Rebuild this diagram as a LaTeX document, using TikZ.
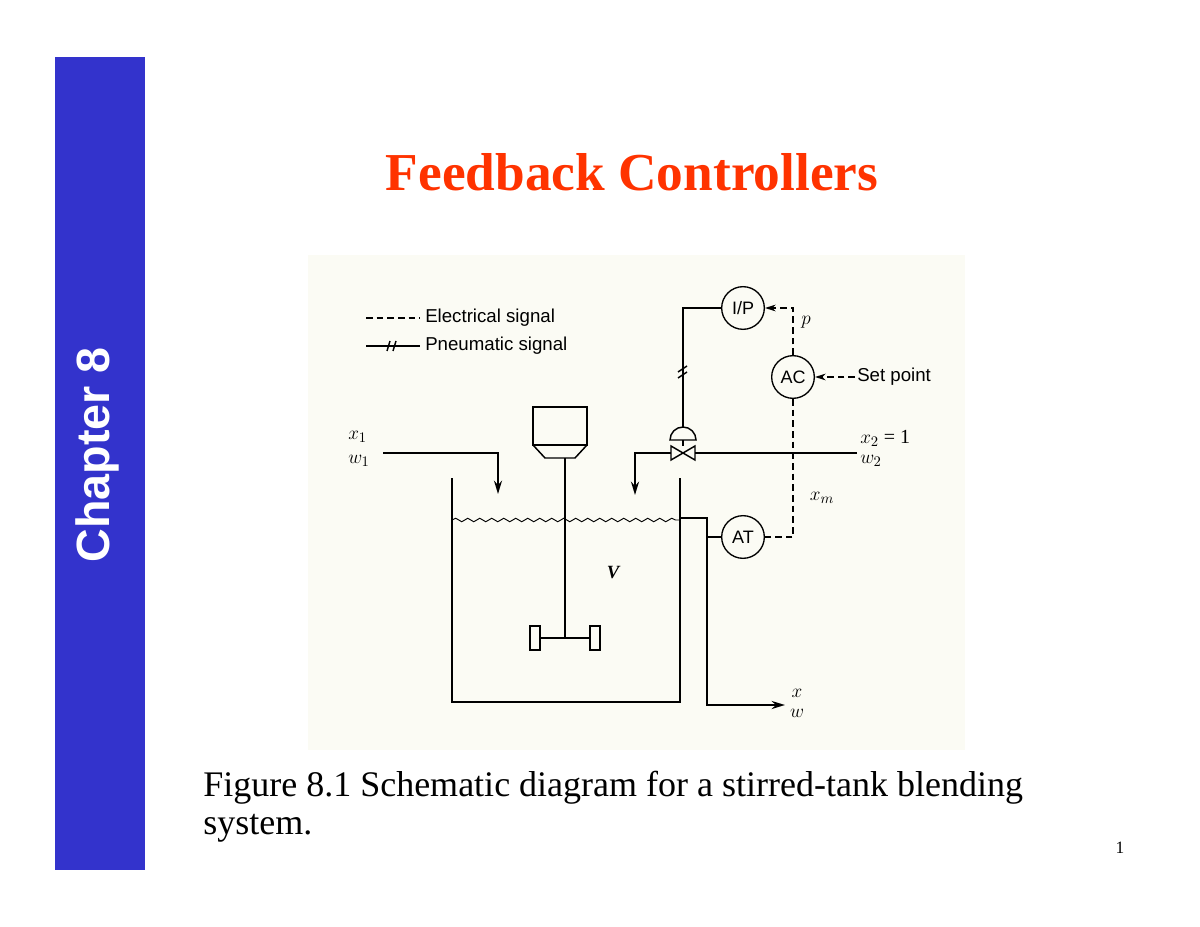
\documentclass[tikz,border=0pt]{standalone}
\usepackage{fontspec}
\setmainfont{Liberation Serif}
\newfontfamily\lsans{Liberation Sans}
\usetikzlibrary{arrows.meta,decorations.pathmorphing}
\definecolor{chap}{RGB}{51,51,204}
\definecolor{ttl}{RGB}{255,51,0}
\definecolor{paper}{RGB}{251,251,244}
\begin{document}
\begin{tikzpicture}[x=0.75pt,y=-0.75pt,
  inst/.style={draw,circle,minimum size=32pt,inner sep=0pt,font=\lsans\fontsize{13.5}{13.5}\selectfont,line width=1pt},
  pipe/.style={line width=2pt},
  thin/.style={line width=1.1pt},
  elec/.style={line width=1pt,dash pattern=on 5pt off 3pt},
  lab/.style={font=\fontsize{15}{15}\selectfont\itshape,inner sep=0pt},
  leg/.style={anchor=west,font=\lsans\fontsize{14}{14}\selectfont,inner sep=0pt},
  sarrow/.style={-{Stealth[length=10pt,width=6pt]}},
  earrow/.style={-{Stealth[length=8pt,width=5pt]}},
  ]
\useasboundingbox (0,0) rectangle (1200,927);
\fill[white] (0,0) rectangle (1200,927);
\fill[chap] (55,57) rectangle (145,870);
\node[rotate=90,text=white,font=\lsans\bfseries\fontsize{35}{35}\selectfont] (chap) at (97,455) {Chapter 8};
\node[text=ttl,font=\bfseries\fontsize{40}{40}\selectfont] (title) at (632,172) {Feedback Controllers};
\fill[paper] (308,255) rectangle (965,750);
% legend
\draw[elec] (366,318) -- (420,318);
\node[leg] (le) at (425,318) {Electrical signal};
\draw[thin] (366,346) -- (420,346);
\draw[thin] (387,351) -- (390,341) (393,351) -- (396,341);
\node[leg] (lp) at (425,346) {Pneumatic signal};
% instruments
\node[inst] (ip) at (743,308) {I/P};
\node[inst] (ac) at (793,377) {AC};
\node[inst] (at) at (743,537) {AT};
% valve
\coordinate (vc) at (683,453);
\draw[thin] (671,446) -- (695,460) -- (695,446) -- (671,460) -- cycle;
\draw[thin] (670,440) -- (696,440) arc (0:-180:13) -- cycle;
\draw[thin] (683,440) -- (683,446);
\coordinate (act) at (683,427);
\draw[thin] (ip.west) -| (act);
\draw[thin] (678,372) -- (687,366) (678,378) -- (687,372);
% inlet 2 pipe
\coordinate (w2e) at (857,453);
\draw[pipe] (w2e) -- (695,453);
\draw[pipe,sarrow] (671,453) -- (635,453) -- (635,495);
\node[lab,anchor=west] (x2) at (860,438) {$x_2$\upshape\ = 1};
\node[lab,anchor=west] (w2) at (860,461) {$w_2$};
% inlet 1
\node[lab,anchor=west] (x1) at (348,437) {$x_1$};
\node[lab,anchor=west] (w1) at (348,461) {$w_1$};
\draw[line width=1.5pt,sarrow] (383,453) -- (498,453) -- (498,494);
% electrical
\coordinate (pc) at (793,308);
\draw[elec,earrow] (ac.north) -- (pc) -- (ip.east);
\node[lab] (p) at (806,322) {$p$};
\coordinate (sp) at (855,377);
\draw[elec,earrow] (sp) -- (ac.east);
\node[leg] (spl) at (857,377) {Set point};
\coordinate (xmc) at (793,537);
\draw[elec] (ac.south) -- (xmc) -- (at.east);
\node[lab] (xm) at (822,498) {$x_m$};
% motor
\draw[thin] (533,407) rectangle (587,445);
\draw[thin] (533,445) -- (545,458) -- (575,458) -- (587,445);
\draw[thin] (565,458) -- (565,638);
\draw[thin] (540,638) -- (590,638);
\draw[thin] (530,626) rectangle (540,650);
\draw[thin] (590,626) rectangle (600,650);
% tank
\draw[pipe] (452,478) -- (452,702) -- (680,702) -- (680,478);
\draw[line width=0.7pt,decorate,decoration={snake,amplitude=1.3pt,segment length=9pt}] (452,520) -- (680,520);
\node[lab,font=\fontsize{14}{14}\selectfont\bfseries\itshape] (v) at (613,573) {V};
% outlet
\coordinate (oe) at (785,705);
\draw[pipe,sarrow] (680,518) -- (707,518) -- (707,705) -- (oe);
\draw[thin] (707,537) -- (at.west);
\node[lab] (xo) at (797,693) {$x$};
\node[lab] (wo) at (797,713) {$w$};
% caption
\node[anchor=west,font=\fontsize{27}{30}\selectfont,inner sep=0pt] (cap1) at (203,788) {Figure 8.1 Schematic diagram for a stirred-tank blending};
\node[anchor=west,font=\fontsize{27}{30}\selectfont,inner sep=0pt] (cap2) at (203,828) {system.};
\node[font=\fontsize{13}{13}\selectfont] (pg) at (1120,848) {1};
\end{tikzpicture}
\end{document}
